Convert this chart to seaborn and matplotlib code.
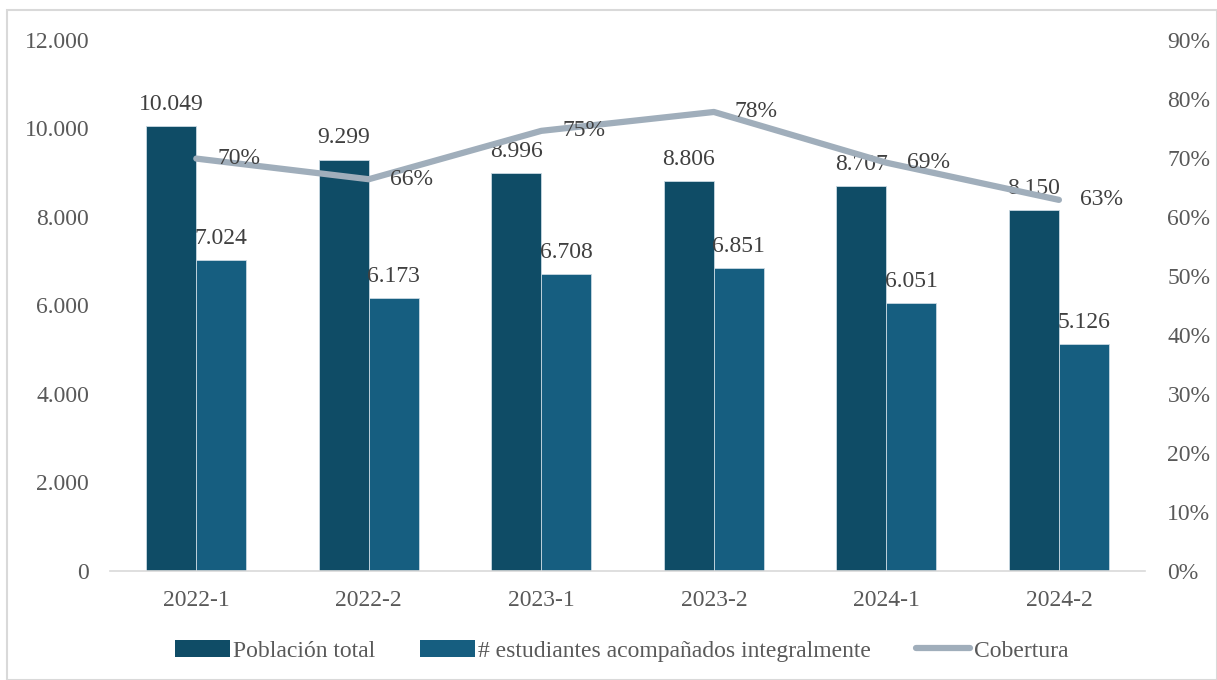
import matplotlib
matplotlib.use("Agg")
import matplotlib.pyplot as plt
import seaborn as sns
import pandas as pd
import numpy as np
from matplotlib.patches import Patch, Rectangle
from matplotlib.lines import Line2D
from matplotlib.ticker import FuncFormatter, MultipleLocator

categories = ["2022-1", "2022-2", "2023-1", "2023-2", "2024-1", "2024-2"]
poblacion = [10049, 9299, 8996, 8806, 8707, 8150]
acompanados = [7024, 6173, 6708, 6851, 6051, 5126]
cobertura = [0.699, 0.664, 0.746, 0.778, 0.692, 0.629]
series_names = ["Población total", "# estudiantes acompañados integralmente", "Cobertura"]

C_DARK = "#0f4c66"
C_MID = "#165e80"
C_LINE = "#a0aebb"
TXT = "#595959"
FS = 17

sns.set_theme(style="white")
plt.rcParams["font.family"] = ["Liberation Serif", "DejaVu Serif"]

df = pd.DataFrame({
    "cat": categories * 2,
    "serie": [series_names[0]] * 6 + [series_names[1]] * 6,
    "val": poblacion + acompanados,
})

fig = plt.figure(figsize=(12.17, 6.8), dpi=100)
ax = fig.add_axes([0.0904, 0.1603, 0.8506, 0.7809])
sns.barplot(data=df, x="cat", y="val", hue="serie", order=categories,
            hue_order=series_names[:2], palette=[C_DARK, C_MID],
            width=0.58, gap=0, ax=ax, legend=False, errorbar=None,
            edgecolor="#c9d9e2", linewidth=0.6, saturation=1)

ax.set_xlim(-0.5, len(categories) - 0.5)
ax.set_ylim(0, 12000)
ax.yaxis.set_major_locator(MultipleLocator(2000))
ax.yaxis.set_major_formatter(FuncFormatter(lambda v, p: f"{int(v):,}".replace(",", ".")))
ax.set_xlabel("")
ax.set_ylabel("")
for s in ["top", "right", "left"]:
    ax.spines[s].set_visible(False)
ax.spines["bottom"].set_color("#d9d9d9")
ax.spines["bottom"].set_linewidth(1.2)
ax.tick_params(axis="both", length=0, labelsize=FS, colors=TXT)
ax.tick_params(axis="y", pad=15)
ax.tick_params(axis="x", pad=14)

for cont in ax.containers:
    labels = [f"{int(v.get_height()):,}".replace(",", ".") for v in cont]
    ax.bar_label(cont, labels=labels, padding=8, fontsize=FS, color="#404040")

ax2 = ax.twinx()
xpos = np.arange(len(categories))
sns.lineplot(x=xpos, y=cobertura, ax=ax2, color=C_LINE, linewidth=4.5, legend=False)
ax2.set_ylim(0, 0.9)
ax2.yaxis.set_major_locator(MultipleLocator(0.1))
ax2.yaxis.set_major_formatter(FuncFormatter(lambda v, p: f"{v*100:.0f}%"))
for s in ax2.spines.values():
    s.set_visible(False)
ax2.tick_params(axis="y", length=0, labelsize=FS, colors=TXT, pad=16)
ax2.set_ylabel("")
for x, v in zip(xpos, cobertura):
    ax2.annotate(f"{v*100:.0f}%", (x, v), xytext=(15, 0), textcoords="offset points",
                 ha="left", va="center", fontsize=FS, color="#404040")

handles = [Patch(facecolor=C_DARK, edgecolor="none"),
           Patch(facecolor=C_MID, edgecolor="none"),
           Line2D([0], [0], color=C_LINE, linewidth=4.5, solid_capstyle="round")]
fig.legend(handles, series_names, loc="center", bbox_to_anchor=(0.511, 0.043), ncol=3,
           frameon=False, fontsize=FS, labelcolor=TXT, handlelength=2.3, handleheight=0.7,
           handletextpad=0.15, columnspacing=1.9)

fig.patches.append(Rectangle((0.006, 0.0), 0.994, 0.985, transform=fig.transFigure,
                             fill=False, edgecolor="#d9d9d9", linewidth=1.5))

fig.savefig("out.png", dpi=100)
